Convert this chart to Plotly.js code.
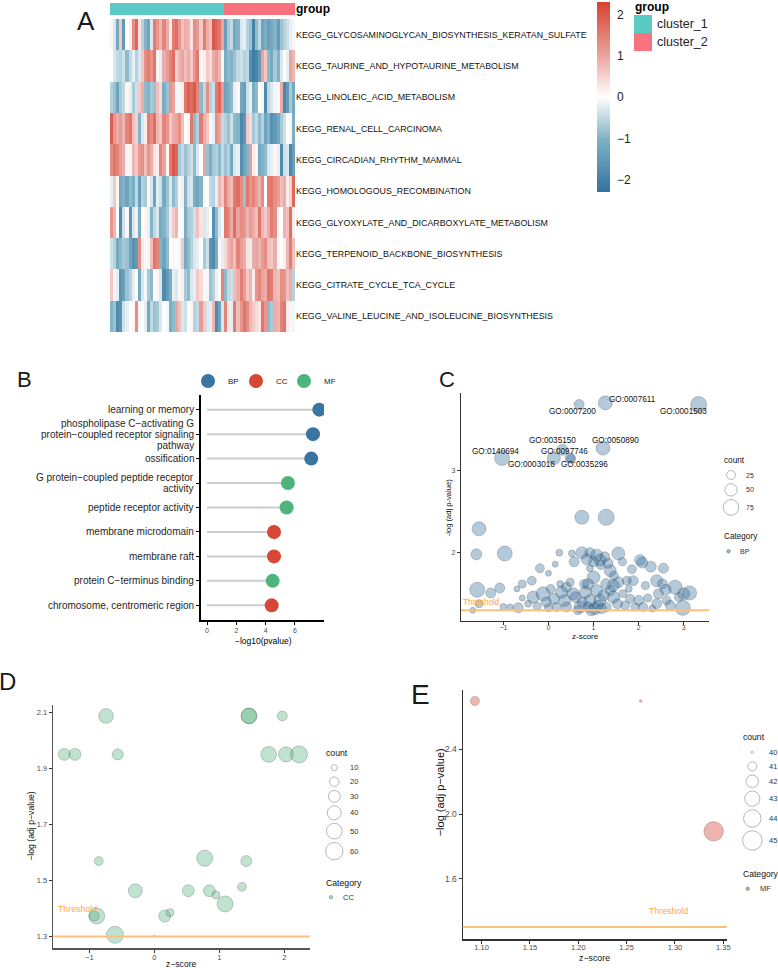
<!DOCTYPE html>
<html><head><meta charset="utf-8">
<script src="https://cdn.plot.ly/plotly-3.0.1.min.js"></script>
<style>html,body{margin:0;padding:0;background:#fff}#chart{width:778px;height:968px}</style>
</head><body><div id="chart"></div>
<script>
// ================= DATA =================
// ---- Panel A: heatmap of KEGG pathway scores ----
const pathways = [
  'KEGG_GLYCOSAMINOGLYCAN_BIOSYNTHESIS_KERATAN_SULFATE',
  'KEGG_TAURINE_AND_HYPOTAURINE_METABOLISM',
  'KEGG_LINOLEIC_ACID_METABOLISM',
  'KEGG_RENAL_CELL_CARCINOMA',
  'KEGG_CIRCADIAN_RHYTHM_MAMMAL',
  'KEGG_HOMOLOGOUS_RECOMBINATION',
  'KEGG_GLYOXYLATE_AND_DICARBOXYLATE_METABOLISM',
  'KEGG_TERPENOID_BACKBONE_BIOSYNTHESIS',
  'KEGG_CITRATE_CYCLE_TCA_CYCLE',
  'KEGG_VALINE_LEUCINE_AND_ISOLEUCINE_BIOSYNTHESIS'
];
const groupNames = ['cluster_1', 'cluster_2'];
const groupSizes = [37, 23];
const zGlycosaminoglycan = [0.1,-0.3,-1.2,0.6,-1.5,0.0,0.2,1.3,1.8,0.3,-0.6,-1.0,-1.3,-0.3,1.5,1.2,0.8,1.4,0.9,0.2,1.5,1.7,1.2,0.7,0.9,0.8,0.3,1.3,1.1,0.6,1.5,0.9,0.7,2.0,1.8,1.6,1.0,
  -1.4,-0.7,-0.5,-1.2,-1.0,-0.3,-0.2,-0.6,-0.8,-2.0,-0.9,-0.5,-1.3,-1.1,-1.4,-1.2,-1.0,-1.5,-0.8,-0.6,-0.4,-0.2,-0.1];
const zTaurine = [0.0,-0.3,-0.5,-0.6,-0.4,-0.9,-0.5,-0.2,-0.6,-0.3,0.6,1.3,1.5,1.2,1.6,0.1,-0.2,0.9,1.1,1.4,1.7,0.5,0.8,1.0,0.7,0.9,0.6,1.2,1.6,0.1,0.2,0.6,0.4,0.9,1.1,0.8,-0.1,
  -1.1,-0.9,-1.0,-0.8,-0.5,-0.4,-0.6,-0.5,-1.7,-2.1,-1.9,-1.5,1.0,0.6,-0.9,-1.2,-0.7,-1.0,-0.3,0.0,-0.2,1.0,0.8];
const zLinoleic = [-0.6,-0.8,-1.3,-0.7,-0.5,0.1,-0.2,-0.7,-0.4,0.6,0.9,-0.9,-1.0,-0.7,-0.8,0.7,0.4,-1.1,-0.8,1.2,1.0,0.1,-0.1,0.2,1.6,1.9,1.7,2.0,1.4,-0.9,-0.5,1.3,-0.6,-0.4,1.5,1.8,1.1,
  -1.3,-1.1,-0.9,-0.2,0.1,-1.2,-1.4,-0.4,-0.2,-1.1,-0.9,0.0,-0.1,-1.8,-0.5,-0.3,-0.1,0.1,0.9,-1.9,-1.5,-0.7,-1.2];
const zRenal = [1.9,1.2,0.9,1.1,0.8,1.4,1.6,0.7,0.5,-1.0,-0.3,0.2,1.5,1.3,1.7,0.8,0.6,1.4,1.2,0.6,0.9,1.0,1.3,0.7,0.0,0.1,1.6,-0.9,-0.6,1.5,0.9,0.6,0.1,-0.2,1.3,1.0,-0.5,
  -0.6,-0.8,-0.4,-0.9,-1.0,-1.9,-1.6,0.6,0.4,-0.7,-0.5,-0.9,-0.6,-1.3,-1.0,-1.7,-1.5,-1.2,-0.7,-0.4,0.0,-0.1,-1.1];
const zCircadian = [1.3,1.6,1.4,1.1,0.9,0.1,-0.1,0.8,0.6,1.1,1.3,0.7,1.2,0.9,0.3,0.2,1.4,1.0,0.1,1.5,2.0,1.8,-0.7,-0.5,-0.8,-0.6,-0.4,-0.9,-0.3,0.0,1.0,-0.8,-1.1,-0.7,-0.6,-0.9,-0.5,
  -0.8,-0.6,-1.2,-0.3,-0.2,-1.7,-1.3,-1.0,1.1,0.2,-0.1,-1.2,-1.0,-0.9,-0.3,-0.2,0.1,-0.2,-1.8,-0.4,-0.3,-1.9,-1.4];
const zHomologous = [-0.2,0.6,0.1,-1.2,-1.0,-1.3,-0.9,-1.1,-0.5,-1.4,-0.6,-0.7,0.1,-0.3,-1.3,-0.2,-0.4,-1.2,-0.8,-0.3,-0.9,-0.6,-0.1,0.2,-1.0,-0.4,-0.3,-1.1,-1.3,-1.0,0.1,0.0,-0.5,-0.6,-0.2,0.8,0.6,
  1.4,0.9,0.7,1.5,1.7,1.3,-0.8,1.6,1.2,1.4,1.1,0.8,1.3,0.0,1.5,1.6,1.3,1.1,0.7,0.9,0.2,0.5,1.8];
const zGlyoxylate = [1.2,0.8,0.0,-1.8,-0.4,0.1,-1.6,-0.3,0.2,-1.1,0.0,0.1,-0.2,-1.0,-0.5,-0.3,-1.2,-1.0,-0.7,-0.2,0.6,0.8,0.0,0.1,-1.1,-0.7,-0.6,-0.4,0.7,0.3,-0.3,-0.2,0.0,-1.7,-0.9,-0.3,-0.1,
  1.6,1.4,0.9,1.7,1.0,1.3,1.2,0.8,1.1,0.9,0.7,1.6,0.8,0.6,0.9,1.5,1.3,0.1,0.0,0.8,0.7,1.7,0.2];
const zTerpenoid = [-0.4,-0.6,-1.2,-0.9,-0.7,-0.8,-1.3,-1.7,-1.5,1.3,-0.2,0.1,-0.1,0.7,1.6,1.4,-1.0,-1.3,-0.9,0.0,0.1,0.0,-0.1,0.6,-1.2,-0.9,-0.6,-0.3,-0.2,0.0,-0.7,-0.4,-1.6,-1.8,-1.1,0.1,-0.2,
  0.4,0.8,1.0,0.7,1.4,1.1,0.9,0.3,-0.2,0.9,1.0,0.8,1.1,1.3,0.7,0.6,0.9,-0.1,0.0,0.2,0.8,1.5,0.7];
const zCitrate = [0.6,0.1,-0.2,-1.6,-1.4,-0.8,-0.6,-0.2,0.0,-1.2,-0.3,-0.1,-0.7,-0.9,0.0,0.1,-0.3,-1.8,-1.5,-1.1,-0.2,-0.3,0.1,0.2,-0.7,-0.9,-0.3,-0.2,0.6,0.4,0.1,-0.1,-0.8,-0.6,0.2,0.0,1.4,
  -0.9,-0.5,-0.4,0.7,0.9,1.5,1.1,0.6,0.8,0.2,1.2,1.4,1.0,0.9,1.6,1.5,0.8,0.7,1.3,1.2,0.7,0.9,-0.6];
const zValine = [-1.0,-0.8,-1.8,-1.6,-0.4,-0.2,0.0,0.1,1.3,0.1,0.0,-0.2,-1.2,-0.5,-0.8,-0.7,-0.3,0.0,-0.1,-1.1,-0.9,1.0,0.7,-0.3,-0.4,0.0,0.1,-0.6,-0.5,1.1,0.6,-0.3,-0.2,0.8,-1.8,-1.3,-0.3,
  1.4,0.3,-0.2,1.5,0.7,1.2,1.6,1.3,0.8,0.6,0.4,0.3,1.6,1.2,-0.9,-0.7,0.9,0.8,1.4,1.6,0.2,0.1,-0.1];
const colorbarTicks = [-2, -1, 0, 1, 2];

// ---- Panel B: GO lollipop ----
const goTerms = [
  'learning or memory',
  'phospholipase C\u2212activating G<br>protein\u2212coupled receptor signaling<br>pathway',
  'ossification',
  'G protein\u2212coupled peptide receptor<br>activity',
  'peptide receptor activity',
  'membrane microdomain',
  'membrane raft',
  'protein C\u2212terminus binding',
  'chromosome, centromeric region'
];
const goNegLog10P = [7.66, 7.23, 7.11, 5.52, 5.43, 4.57, 4.57, 4.48, 4.41];
const goCategory = ['BP', 'BP', 'BP', 'MF', 'MF', 'CC', 'CC', 'MF', 'CC'];
const categories = ['BP', 'CC', 'MF'];
const bTicks = [0, 2, 4, 6];

// ---- Panel C: BP bubbles ----
const bpZ = [1.26,0.68,3.33,1.21,0.31,0.48,0.12,-1.03,0.50,0.74,1.28,-1.54,-1.60,-0.97,0.24,0.52,0.57,0.74,0.92,1.07,1.14,1.00,1.32,1.37,1.55,1.64,1.16,0.92,2.03,2.08,2.27,2.55,-0.19,0.00,-0.37,-0.58,-0.70,-1.08,-1.28,-1.58,-1.54,-1.68,-1.00,-0.67,-0.58,-0.34,-0.12,0.00,0.26,0.40,0.29,0.55,0.36,0.18,0.40,0.70,0.79,0.88,1.00,1.07,0.92,0.88,1.03,1.14,1.18,1.29,1.44,1.55,1.37,1.44,1.53,1.74,1.88,1.81,2.00,2.10,1.92,2.40,2.53,2.44,2.40,2.62,2.81,3.00,3.13,2.98,2.89,0.60,0.75,0.65,0.95,1.10,1.22,0.82,1.28,0.48,-0.25,-0.45,0.12,0.05,1.65,1.70,2.20,2.30,2.70,1.85,1.25,0.85,1.45,2.15,0.15,-0.85,1.78,2.60,-0.05];
const bpLogP = [3.82,3.80,3.80,3.27,3.25,3.15,3.15,3.15,3.14,2.43,2.43,2.29,1.98,1.99,2.00,1.99,1.89,2.00,2.00,1.97,1.91,1.89,1.87,1.78,1.99,1.89,1.85,1.81,1.91,1.88,1.83,1.81,1.81,1.75,1.66,1.62,1.56,1.57,1.51,1.55,1.38,1.30,1.34,1.33,1.45,1.46,1.50,1.33,1.62,1.58,1.52,1.50,1.42,1.34,1.34,1.34,1.62,1.62,1.70,1.54,1.42,1.34,1.32,1.42,1.32,1.34,1.60,1.64,1.54,1.46,1.38,1.66,1.66,1.44,1.42,1.34,1.34,1.66,1.62,1.50,1.38,1.42,1.58,1.50,1.51,1.33,1.46,1.46,1.40,1.30,1.30,1.36,1.48,1.52,1.62,1.64,1.35,1.38,1.44,1.56,1.50,1.36,1.45,1.32,1.36,1.80,1.95,1.92,1.72,1.60,1.86,1.34,1.56,1.55,1.40];
const bpCount = [63,33,78,63,40,33,55,70,25,63,78,63,40,70,10,10,33,48,33,48,48,33,33,48,55,18,25,10,40,40,40,33,25,3,25,18,3,33,33,70,18,2,10,33,3,48,63,18,10,33,48,48,48,25,33,48,25,40,55,48,48,33,48,48,33,25,48,40,33,48,33,25,33,25,33,25,18,48,33,33,33,25,63,48,63,70,25,40,33,25,40,33,40,48,40,18,18,10,40,25,18,25,18,10,33,25,33,40,25,18,3,3,10,40,33];
const bpLabelIds = ['GO:0007611','GO:0007200','GO:0001503','GO:0035150','GO:0050890','GO:0140694','GO:0097746','GO:0003018','GO:0035296'];
const bpLabelX = [1.86, 0.53, 3.00, 0.08, 1.49, -1.18, 0.36, -0.37, 0.80];
const bpLabelY = [3.86, 3.71, 3.71, 3.36, 3.36, 3.23, 3.23, 3.07, 3.07];
const bpLegendCounts = [25, 50, 75];
const bpXTicks = [-1, 0, 1, 2, 3];
const bpYTicks = [2, 3];

// ---- Panel D: CC bubbles ----
const ccZ = [-0.743,1.457,1.457,1.969,-1.385,-1.22,-0.563,1.76,2.026,2.226,-0.855,0.775,1.415,-0.292,0.523,0.846,0.949,1.349,1.088,-0.886,-0.923,0.16,0.242,-0.605,0.0];
const ccLogP = [2.087,2.087,2.087,2.087,1.95,1.95,1.95,1.95,1.95,1.95,1.57,1.58,1.57,1.464,1.464,1.464,1.449,1.478,1.417,1.374,1.374,1.374,1.386,1.307,1.302];
const ccCount = [44,50,48,22,30,30,26,50,46,58,18,52,26,40,30,30,15,18,52,52,22,30,15,58,4];
const ccLegendCounts = [10, 20, 30, 40, 50, 60];
const ccXTicks = [-1, 0, 1, 2];
const ccYTicks = [1.3, 1.5, 1.7, 1.9, 2.1];

// ---- Panel E: MF bubbles ----
const mfZ = [1.093, 1.2645, 1.340];
const mfLogP = [2.699, 2.699, 1.893];
const mfCount = [41, 40, 45];
const mfLegendCounts = [40, 41, 42, 43, 44, 45];
const mfXTicks = [1.10, 1.15, 1.20, 1.25, 1.30, 1.35];
const mfYTicks = [1.6, 2.0, 2.4];

const pThreshold = 0.05;
const thresholdLabelY = 1.4;
const thresholdLabelX = { C: -1.48, D: -1.18, E: 1.293 };

// ================= STYLE / HELPERS =================
const W = 778, H = 968;
const FONT = 'Liberation Sans, Arial, Helvetica, sans-serif';
const fx = p => p / W;
const fy = p => 1 - p / H;
const domX = (a, b) => [a / W, b / W];
const domY = (t, b) => [1 - b / H, 1 - t / H];
const catColor = { BP: '#3A74A1', CC: '#D84635', MF: '#4DB47C' };
const bubbleFill = { C: 'rgba(52,112,160,0.52)', D: 'rgba(78,178,124,0.5)', E: 'rgba(214,66,52,0.55)' };
const bubbleLine = 'rgba(30,30,30,0.55)';
const ORANGE_LINE = '#FDC07C', ORANGE_TEXT = '#FFA640';
const sizeC = c => 5.6 + 0.134 * c;
const sizeD = c => Math.sqrt(Math.max(5.28 * c - 16.8, 2));
const sizeE = c => Math.sqrt(Math.max(75 * (c - 40) + 6, 2));
const threshold = -Math.log10(pThreshold);

const annotations = [];
function txt(text, x, y, size, o) {
  o = o || {};
  annotations.push({
    text: text, x: fx(x), y: fy(y), xref: 'paper', yref: 'paper', showarrow: false,
    xanchor: o.xanchor || 'center', yanchor: o.yanchor || 'middle', textangle: o.angle || 0,
    font: { family: FONT, size: size, color: o.color || '#000', weight: o.weight || 'normal' }
  });
}
const traces = [];

// ================= PANEL A =================
const heatRows = [zGlycosaminoglycan, zTaurine, zLinoleic, zRenal, zCircadian, zHomologous, zGlyoxylate, zTerpenoid, zCitrate, zValine];
const nCols = heatRows[0].length;
const colIdx = Array.from({ length: nCols }, (_, i) => i);
const groupVec = [];
groupSizes.forEach((n, g) => { for (let i = 0; i < n; i++) groupVec.push(g); });
traces.push({
  type: 'heatmap', xaxis: 'x', yaxis: 'y', z: heatRows, x: colIdx, y: pathways,
  zmin: -2.3, zmax: 2.3, hoverinfo: 'skip',
  colorscale: [[0, '#33739F'], [0.28, '#80B2C6'], [0.5, '#FFFFFF'], [0.72, '#EAA39D'], [1, '#D7402F']],
  colorbar: {
    x: fx(597), xref: 'paper', xanchor: 'left', y: fy(2), yref: 'paper', yanchor: 'top',
    len: 190, lenmode: 'pixels', thickness: 13, thicknessmode: 'pixels', xpad: 0, ypad: 0,
    outlinewidth: 0, tickvals: colorbarTicks, ticks: 'outside', ticklen: 5, tickcolor: 'rgba(0,0,0,0)',
    tickfont: { family: FONT, size: 12, color: '#222' }
  }
});
traces.push({
  type: 'heatmap', xaxis: 'x2', yaxis: 'y2', z: [groupVec], x: colIdx, y: ['<b>group</b>'],
  zmin: 0, zmax: 1, showscale: false, hoverinfo: 'skip',
  colorscale: [[0, '#5BCAC4'], [0.5, '#5BCAC4'], [0.5, '#F8737D'], [1, '#F8737D']]
});
// group legend (squares)
traces.push({
  type: 'scatter', mode: 'markers', xaxis: 'x7', yaxis: 'y7',
  x: groupNames.map(() => 643), y: groupNames.map((_, i) => 24 + i * 18),
  marker: { symbol: 'square', size: 18, color: ['#5BCAC4', '#F8737D'], line: { width: 0 } }, hoverinfo: 'skip'
});
txt('group', 633, 7.5, 12, { xanchor: 'left', weight: 'bold' });
groupNames.forEach((g, i) => txt(g, 655, 24 + i * 18, 12.5, { xanchor: 'left', color: '#222' }));
txt('A', 86, 20.5, 26, { color: '#1a1a1a' });

// ================= PANEL B =================
const lx = [], ly = [];
goTerms.forEach((t, i) => { lx.push(0, goNegLog10P[i], null); ly.push(t, t, null); });
traces.push({ type: 'scatter', mode: 'lines', xaxis: 'x3', yaxis: 'y3', x: lx, y: ly,
  line: { color: '#CCCCCC', width: 2 }, hoverinfo: 'skip' });
traces.push({ type: 'scatter', mode: 'markers', xaxis: 'x3', yaxis: 'y3', x: goNegLog10P, y: goTerms,
  marker: { size: 14, color: goCategory.map(c => catColor[c]), line: { width: 0 } }, hoverinfo: 'skip' });
// category labels (tight line spacing like the reference), positioned on the category axis
const bLineStep = 0.445;
goTerms.forEach((t, i) => {
  const lines = t.split('<br>');
  lines.forEach((ln, k) => annotations.push({
    text: ln, xref: 'paper', x: fx(195.5), xanchor: 'right', yref: 'y3', y: i + (k - (lines.length - 1) / 2) * bLineStep,
    yanchor: 'middle', showarrow: false, font: { family: FONT, size: 10, color: '#262626' }
  }));
});
// B legend
traces.push({ type: 'scatter', mode: 'markers', xaxis: 'x7', yaxis: 'y7',
  x: categories.map((_, i) => 208 + 48 * i), y: categories.map(() => 381),
  marker: { size: 14, color: categories.map(c => catColor[c]) }, hoverinfo: 'skip' });
categories.forEach((c, i) => txt(c, 226 + 48 * i, 381, 8, { xanchor: 'left', color: '#222' }));
txt('B', 24.5, 379.5, 22, { color: '#1a1a1a' });
txt('\u2212log10(pvalue)', 263, 641, 8.5);

// ================= bubble panels =================
function bubblePanel(ax, xs, ys, counts, sizeFn, fill) {
  traces.push({ type: 'scatter', mode: 'markers', xaxis: 'x' + ax, yaxis: 'y' + ax, x: xs, y: ys,
    marker: { size: counts.map(sizeFn), color: fill, line: { color: bubbleLine, width: 0.6 } }, hoverinfo: 'skip' });
}
function bubbleLegend(counts, sizeFn, L) {
  const ys = []; let cur = L.keysTop;
  counts.forEach(c => { const h = Math.max(14, sizeFn(c) + 3.5); ys.push(cur + h / 2); cur += h; });
  traces.push({ type: 'scatter', mode: 'markers', xaxis: 'x7', yaxis: 'y7',
    x: counts.map(() => L.circleX), y: ys,
    marker: { size: counts.map(sizeFn), color: 'rgba(0,0,0,0)', line: { color: '#808080', width: 0.8 } }, hoverinfo: 'skip' });
  counts.forEach((c, i) => txt(String(c), L.labelX, ys[i], L.labelSize, { xanchor: 'left', color: '#333' }));
  txt('count', L.titleX, L.titleY, L.titleSize, { xanchor: 'left', color: '#111' });
  txt('Category', L.titleX, L.catTitleY, L.titleSize, { xanchor: 'left', color: '#111' });
  traces.push({ type: 'scatter', mode: 'markers', xaxis: 'x7', yaxis: 'y7',
    x: [L.catDotX], y: [L.catTitleY + 14.5],
    marker: { size: 3.5, color: L.catFill, line: { color: bubbleLine, width: 0.5 } }, hoverinfo: 'skip' });
  txt(L.catName, L.catLabelX, L.catTitleY + 14.5, L.labelSize, { xanchor: 'left', color: '#333' });
}

// ---- C ----
bubblePanel(4, bpZ, bpLogP, bpCount, sizeC, bubbleFill.C);
bpLabelIds.forEach((id, i) => annotations.push({ text: id, x: bpLabelX[i], y: bpLabelY[i], xref: 'x4', yref: 'y4',
  showarrow: false, font: { family: FONT, size: 8.2, color: '#111' } }));
annotations.push({ text: 'Threshold', x: thresholdLabelX.C, y: thresholdLabelY, xref: 'x4', yref: 'y4', showarrow: false,
  font: { family: FONT, size: 8.2, color: ORANGE_TEXT } });
bubbleLegend(bpLegendCounts, sizeC, { keysTop: 468, circleX: 731, labelX: 744, labelSize: 7, titleX: 722, titleY: 460.7,
  titleSize: 8.2, catTitleY: 536.7, catDotX: 728.5, catLabelX: 738, catName: 'BP', catFill: bubbleFill.C });
txt('C', 446.5, 379.5, 22, { color: '#1a1a1a' });
txt('-log (adj p-value)', 448, 508.3, 7.6, { angle: -90, color: '#111' });
txt('z-score', 585, 636.5, 8, { color: '#111' });

// ---- D ----
bubblePanel(5, ccZ, ccLogP, ccCount, sizeD, bubbleFill.D);
annotations.push({ text: 'Threshold', x: thresholdLabelX.D, y: thresholdLabelY, xref: 'x5', yref: 'y5', showarrow: false,
  font: { family: FONT, size: 8.8, color: ORANGE_TEXT } });
bubbleLegend(ccLegendCounts, sizeD, { keysTop: 760.7, circleX: 334.3, labelX: 348, labelSize: 7.5, titleX: 324, titleY: 752.7,
  titleSize: 8.7, catTitleY: 882.7, catDotX: 331, catLabelX: 341, catName: 'CC', catFill: bubbleFill.D });
txt('D', 7.5, 681.5, 24, { color: '#1a1a1a' });
txt('\u2212log (adj p\u2212value)', 31, 825.8, 8.7, { angle: -90, color: '#111' });
txt('z\u2212score', 181.8, 964.3, 8.6, { color: '#111' });

// ---- E ----
bubblePanel(6, mfZ, mfLogP, mfCount, sizeE, bubbleFill.E);
annotations.push({ text: 'Threshold', x: thresholdLabelX.E, y: thresholdLabelY, xref: 'x6', yref: 'y6', showarrow: false,
  font: { family: FONT, size: 8.8, color: ORANGE_TEXT } });
bubbleLegend(mfLegendCounts, sizeE, { keysTop: 745.3, circleX: 752.3, labelX: 766.5, labelSize: 7.5, titleX: 740.5, titleY: 737.3,
  titleSize: 8.6, catTitleY: 874.3, catDotX: 747.7, catLabelX: 757.5, catName: 'MF', catFill: bubbleFill.E });
txt('E', 421, 694, 28, { color: '#1a1a1a' });
txt('\u2212log (adj p\u2212value)', 440, 792.3, 11, { angle: -90, color: '#111' });
txt('z\u2212score', 594.3, 957.5, 8.8, { color: '#111' });

// threshold lines
const shapes = [4, 5, 6].map(a => ({ type: 'line', layer: 'above', xref: 'x' + a + ' domain', x0: 0, x1: 1,
  yref: 'y' + a, y0: threshold, y1: threshold, line: { color: ORANGE_LINE, width: 2 } }));

// ================= LAYOUT =================
function axisStyle(o) {
  return Object.assign({ showgrid: false, zeroline: false, showline: true, linecolor: '#333', linewidth: 1.2,
    ticks: 'outside', ticklen: 3, tickwidth: 1, tickcolor: '#333', fixedrange: true,
    tickfont: { family: FONT, size: 7, color: '#4D4D4D' } }, o);
}
const layout = {
  width: W, height: H, margin: { l: 0, r: 0, t: 0, b: 0 }, showlegend: false,
  paper_bgcolor: '#fff', plot_bgcolor: 'rgba(0,0,0,0)', font: { family: FONT },
  xaxis: { domain: domX(110, 295), range: [-0.5, nCols - 0.5], visible: false, anchor: 'y', fixedrange: true },
  yaxis: { domain: domY(19, 332), type: 'category', autorange: 'reversed', side: 'right', ticks: '', showline: false,
    showgrid: false, zeroline: false, anchor: 'x', tickfont: { family: FONT, size: 8.85, color: '#111' }, fixedrange: true },
  xaxis2: { domain: domX(110, 295), range: [-0.5, nCols - 0.5], visible: false, anchor: 'y2', fixedrange: true },
  yaxis2: { domain: domY(3, 15), type: 'category', side: 'right', ticks: '', showline: false, showgrid: false,
    zeroline: false, anchor: 'x2', tickfont: { family: FONT, size: 12, color: '#000' }, fixedrange: true },
  xaxis3: axisStyle({ domain: domX(201, 324), range: [-0.41, 7.98], tickvals: bTicks, anchor: 'y3',
    linecolor: '#000', linewidth: 1.8, tickcolor: '#000' }),
  yaxis3: axisStyle({ domain: domY(395, 620), type: 'category', range: [goTerms.length - 0.4, -0.6], autorange: false,
    anchor: 'x3', linecolor: '#000', linewidth: 1.8, tickcolor: '#000', showticklabels: false }),
  xaxis4: axisStyle({ domain: domX(461, 709), range: [-1.94, 3.56], tickvals: bpXTicks, anchor: 'y4', ticklabelstandoff: -4 }),
  yaxis4: axisStyle({ domain: domY(393, 621), range: [1.17, 3.94], tickvals: bpYTicks, anchor: 'x4' }),
  xaxis5: axisStyle({ domain: domX(53.3, 310), range: [-1.554, 2.395], tickvals: ccXTicks, anchor: 'y5', ticklabelstandoff: -2,
    linecolor: '#555', linewidth: 1.5, tickfont: { family: FONT, size: 7.5, color: '#4D4D4D' } }),
  yaxis5: axisStyle({ domain: domY(705, 948.3), range: [1.259, 2.126], tickvals: ccYTicks, tickformat: '.1f', anchor: 'x5',
    linecolor: '#555', linewidth: 1.5, tickfont: { family: FONT, size: 7.5, color: '#4D4D4D' } }),
  xaxis6: axisStyle({ domain: domX(462.7, 726.7), range: [1.0804, 1.3535], tickvals: mfXTicks, tickformat: '.2f', anchor: 'y6',
    ticklabelstandoff: -3, tickfont: { family: FONT, size: 7.5, color: '#4D4D4D' } }),
  yaxis6: axisStyle({ domain: domY(690, 939.3), range: [1.225, 2.767], tickvals: mfYTicks, tickformat: '.1f', anchor: 'x6',
    tickfont: { family: FONT, size: 8.5, color: '#4D4D4D' } }),
  xaxis7: { domain: [0, 1], range: [0, W], visible: false, anchor: 'y7', fixedrange: true },
  yaxis7: { domain: [0, 1], range: [H, 0], visible: false, anchor: 'x7', fixedrange: true },
  annotations: annotations, shapes: shapes
};
Plotly.newPlot('chart', traces, layout, { staticPlot: true, displayModeBar: false });
</script>
</body></html>
